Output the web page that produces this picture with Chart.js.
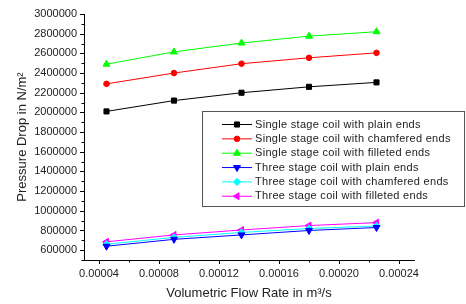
<!DOCTYPE html>
<html>
<head>
<meta charset="utf-8">
<script src="https://cdn.jsdelivr.net/npm/chart.js"></script>
<style>
  html, body { margin: 0; padding: 0; background: #fff; }
  #wrap { width: 466px; height: 304px; }
</style>
</head>
<body>
<div id="wrap"><canvas id="chart" width="466" height="304"></canvas></div>
<script>
// Datos
var flowRates = [0.000045, 0.00009, 0.000135, 0.00018, 0.000225];
var singlePlain = [2010000, 2120000, 2200000, 2260000, 2305000];
var singleChamfered = [2290000, 2400000, 2495000, 2555000, 2605000];
var singleFilleted = [2490000, 2615000, 2705000, 2775000, 2820000];
var threePlain = [640000, 710000, 755000, 800000, 830000];
var threeChamfered = [660000, 730000, 780000, 820000, 845000];
var threeFilleted = [685000, 755000, 805000, 850000, 880000];
var seriesNames = [
    'Single stage coil with plain ends',
    'Single stage coil with chamfered ends',
    'Single stage coil with filleted ends',
    'Three stage coil with plain ends',
    'Three stage coil with chamfered ends',
    'Three stage coil with filleted ends'
];
// Marcas del eje x (mayores con etiqueta, menores sin ella)
var xMajorTicks = [0.00004, 0.00008, 0.00012, 0.00016, 0.00020, 0.00024];
var xMinorTicks = [0.00006, 0.00010, 0.00014, 0.00018, 0.00022];
var xTickLabels = ['0.00004', '0.00008', '0.00012', '0.00016', '0.00020', '0.00024'];

var FONT = "'Liberation Sans', Arial, sans-serif";

function toPoints(values) {
    return values.map(function (v, i) { return { x: flowRates[i], y: v }; });
}

function makeSet(i, values, color, style, radius, rotation) {
    return {
        label: seriesNames[i],
        data: toPoints(values),
        showLine: true,
        borderColor: color,
        backgroundColor: color,
        borderWidth: 1,
        pointStyle: style,
        pointRadius: radius,
        pointRotation: rotation,
        pointBorderWidth: 1,
        pointBorderColor: color,
        pointBackgroundColor: color
    };
}

var datasets = [
    makeSet(0, singlePlain, '#000000', 'rect', 3.6, 0),
    makeSet(1, singleChamfered, '#ff0000', 'circle', 2.8, 0),
    makeSet(2, singleFilleted, '#00ff00', 'triangle', 4, 0),
    makeSet(3, threePlain, '#0000ff', 'triangle', 4, 180),
    makeSet(4, threeChamfered, '#00ffff', 'rectRot', 3.6, 0),
    makeSet(5, threeFilleted, '#ff00ff', 'triangle', 4, -90)
];

// Marcas de eje: mayores con etiqueta, menores sin ella
var tickMarks = {
    id: 'tickMarks',
    afterDraw: function (chart) {
        var ctx = chart.ctx;
        ctx.save();
        ctx.strokeStyle = '#000';
        ctx.lineWidth = 1;
        var xs = chart.scales.x, ys = chart.scales.y;
        xs.ticks.forEach(function (t) {
            var px = Math.round(xs.getPixelForValue(t.value)) + 0.5;
            var len = t.label ? 4 : 2.5;
            ctx.beginPath();
            ctx.moveTo(px, xs.top);
            ctx.lineTo(px, xs.top + len);
            ctx.stroke();
        });
        ys.ticks.forEach(function (t) {
            var py = Math.round(ys.getPixelForValue(t.value)) + 0.5;
            var len = t.label ? 4 : 2.5;
            ctx.beginPath();
            ctx.moveTo(ys.right, py);
            ctx.lineTo(ys.right - len, py);
            ctx.stroke();
        });
        ctx.restore();
    }
};

// Leyenda dentro del área del gráfico
var boxLegend = {
    id: 'boxLegend',
    afterDraw: function (chart) {
        var ctx = chart.ctx;
        var left = 202, top = 111, w = 262, h = 95;
        ctx.save();
        ctx.fillStyle = '#fff';
        ctx.fillRect(left, top, w, h);
        ctx.strokeStyle = '#555';
        ctx.lineWidth = 1;
        ctx.strokeRect(left + 0.5, top + 0.5, w, h);
        ctx.font = '11px ' + FONT;
        ctx.letterSpacing = '0.3px';
        ctx.textBaseline = 'middle';
        chart.data.datasets.forEach(function (ds, i) {
            var y = top + 13.5 + i * 14.35;
            ctx.strokeStyle = ds.borderColor;
            ctx.fillStyle = ds.backgroundColor;
            ctx.beginPath();
            ctx.moveTo(222, y);
            ctx.lineTo(252, y);
            ctx.stroke();
            Chart.helpers.drawPoint(ctx, {
                pointStyle: ds.pointStyle,
                radius: ds.pointRadius,
                rotation: ds.pointRotation,
                borderWidth: 1
            }, 237, y);
            ctx.fillStyle = '#222';
            ctx.fillText(ds.label, 255, y);
        });
        ctx.restore();
    }
};

var ctx = document.getElementById('chart').getContext('2d');
var chart = new Chart(ctx, {
    type: 'scatter',
    data: { datasets: datasets },
    options: {
        responsive: false,
        animation: false,
        devicePixelRatio: 1,
        layout: { padding: { top: 14, right: 52, left: 0, bottom: 0 } },
        plugins: {
            legend: { display: false },
            tooltip: { enabled: false }
        },
        scales: {
            x: {
                type: 'linear',
                min: 0.00003,
                max: 0.00025,
                afterBuildTicks: function (s) {
                    s.ticks = xMajorTicks.concat(xMinorTicks)
                        .sort(function (a, b) { return a - b; })
                        .map(function (v) { return { value: v }; });
                },
                afterFit: function (s) { s.height = 44; },
                grid: { display: true, drawOnChartArea: false, drawTicks: false },
                border: { display: true, color: '#000', width: 1 },
                ticks: {
                    autoSkip: false,
                    maxRotation: 0,
                    padding: 7,
                    color: '#222',
                    font: { family: FONT, size: 11 },
                    callback: function (v) {
                        for (var i = 0; i < xMajorTicks.length; i++) {
                            if (Math.abs(v - xMajorTicks[i]) < 1e-10) return xTickLabels[i];
                        }
                        return '';
                    }
                },
                title: {
                    display: true,
                    text: 'Volumetric Flow Rate in m³/s',
                    color: '#222',
                    font: { family: FONT, size: 13 },
                    padding: { top: 0, bottom: 3 }
                }
            },
            y: {
                type: 'linear',
                min: 500000,
                max: 3000000,
                afterFit: function (s) { s.width = 84; },
                grid: { display: true, drawOnChartArea: false, drawTicks: false },
                border: { display: true, color: '#000', width: 1 },
                ticks: {
                    stepSize: 100000,
                    autoSkip: false,
                    padding: 7,
                    color: '#222',
                    font: { family: FONT, size: 11 },
                    callback: function (v) {
                        return (v % 200000 === 0) ? String(v) : '';
                    }
                },
                title: {
                    display: true,
                    text: 'Pressure Drop in N/m²',
                    color: '#222',
                    font: { family: FONT, size: 13 },
                    padding: { top: 15, bottom: 0 }
                }
            }
        }
    },
    plugins: [tickMarks, boxLegend]
});
</script>
</body>
</html>
